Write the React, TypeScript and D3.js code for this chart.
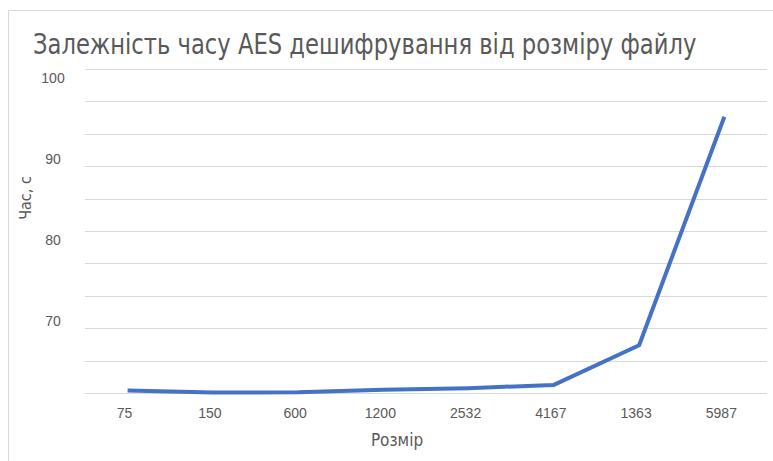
import React from "react";
import * as d3 from "d3";

// File sizes (category labels) and AES decryption time, seconds
const sizes: string[] = ["75", "150", "600", "1200", "2532", "4167", "1363", "5987"];
const times: number[] = [60.3, 60.05, 60.1, 60.4, 60.6, 61.0, 65.9, 94.1];
const yTickLabels: number[] = [100, 90, 80, 70];
const yDomain: [number, number] = [60, 100];
const gridStep = 4;

const W = 773;
const H = 461;
const plot = { left: 85, right: 767, top: 69, bottom: 393 };
const textColor = "#595959";
const gridColor = "#d9d9d9";
const lineColor = "#4472C4";

export default function App() {
  const x = d3
    .scaleBand<string>()
    .domain(sizes)
    .range([plot.left, plot.right])
    .padding(0);
  const y = d3.scaleLinear().domain(yDomain).range([plot.bottom, plot.top]);

  const gridValues = d3.range(yDomain[0], yDomain[1] + 0.001, gridStep);
  const cx = (s: string) => (x(s) ?? 0) + x.bandwidth() / 2;

  const line = d3
    .line<number>()
    .x((_, i) => cx(sizes[i]))
    .y((d) => y(d));

  return (
    <svg
      width={W}
      height={H}
      style={{ position: "absolute", left: 0, top: 0, background: "#fff" }}
      fontFamily="'Liberation Sans', Arial, sans-serif"
    >
      {/* chart frame */}
      <path d={`M8.5,${H} V10.5 H${W}`} fill="none" stroke={gridColor} strokeWidth={1} />

      {/* title, drawn slightly condensed */}
      <text
        transform="translate(33,54) scale(1,1.15)"
        x={0}
        y={0}
        fontFamily="'DejaVu Sans Condensed', 'DejaVu Sans', sans-serif"
        fontSize={25.2}
        fill={textColor}
      >
        Залежність часу AES дешифрування  від розміру файлу
      </text>

      {gridValues.map((v) => (
        <line
          key={v}
          x1={plot.left}
          x2={plot.right}
          y1={Math.round(y(v)) + 0.5}
          y2={Math.round(y(v)) + 0.5}
          stroke={gridColor}
          strokeWidth={1}
        />
      ))}

      {yTickLabels.map((v) => (
        <text
          key={v}
          x={53}
          y={y(v) + 9}
          textAnchor="middle"
          dominantBaseline="central"
          fontSize={14}
          fill={textColor}
        >
          {v}
        </text>
      ))}

      {sizes.map((s) => (
        <text
          key={s}
          x={cx(s) - 3}
          y={413}
          textAnchor="middle"
          dominantBaseline="central"
          fontSize={14}
          fill={textColor}
        >
          {s}
        </text>
      ))}

      <path
        d={line(times) ?? ""}
        fill="none"
        stroke={lineColor}
        strokeWidth={4}
        strokeLinejoin="round"
        strokeLinecap="butt"
      />

      <text
        transform="translate(25,198) rotate(-90)"
        textAnchor="middle"
        dominantBaseline="central"
        fontFamily="'DejaVu Sans Condensed', 'DejaVu Sans', sans-serif"
        fontSize={16}
        fill={textColor}
      >
        Час, с
      </text>

      <text
        x={397}
        y={440}
        textAnchor="middle"
        dominantBaseline="central"
        fontFamily="'DejaVu Sans Condensed', 'DejaVu Sans', sans-serif"
        fontSize={17}
        fill={textColor}
      >
        Розмір
      </text>
    </svg>
  );
}
